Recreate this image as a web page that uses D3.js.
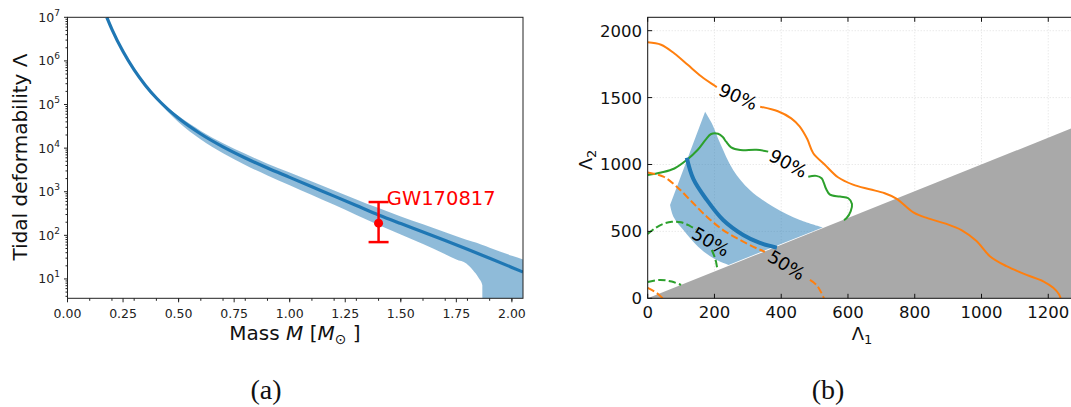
<!DOCTYPE html>
<html><head><meta charset="utf-8">
<script src="https://cdn.jsdelivr.net/npm/d3@7"></script>
<style>
html,body{margin:0;padding:0;background:#fff;}
svg{display:block;font-family:"DejaVu Sans",sans-serif;}
</style></head>
<body>
<svg id="c" width="1071" height="407"></svg>
<script>
// ---------- Panel (a) data ----------
const massGrid   = [0.177,0.2,0.25,0.3,0.35,0.4,0.45,0.5,0.6,0.7,0.8,0.9,1.0,1.1,1.2,1.3,1.4,1.5,1.6,1.7,1.8,1.9,2.0,2.05];
const lambdaMid  = [1e7,5.30e6,1.637e6,6.22e5,2.78e5,1.41e5,7.93e4,4.83e4,2.11e4,1.069e4,5940,3500,2133,1300,793,483,294,186,119,75.7,47.8,29.8,18.4,14.4];
const bandMass   = [0.35,0.4,0.45,0.5,0.6,0.7,0.8,0.9,1.0,1.1,1.2,1.3,1.4,1.5,1.6,1.7,1.75,1.795,1.825,1.85,1.867,1.868,1.9,2.0,2.05];
const bandHigh   = [2.78e5,1.459e5,8.59e4,5.42e4,2.48e4,1.30e4,7400,4410,2750,1710,1070,667,421,272,179,117,95,79,71,65,60,59.75,52,34,28];
const bandLow    = [2.78e5,1.346e5,6.90e4,3.93e4,1.58e4,7660,4110,2370,1410,840,500,294,173,104,63,37,28,22.6,15.8,10.7,7.2,1,1,1,1];
const gwMass = 1.4, gwLambda = 190, gwLow = 70, gwHigh = 580;
const gwLabel = "GW170817";
const massTicks = [0,0.25,0.5,0.75,1.0,1.25,1.5,1.75,2.0];
const massMinor = [0.1,0.2,0.3,0.4,0.5,0.6,0.7,0.8,0.9,1.0,1.1,1.2,1.3,1.4,1.5,1.6,1.7,1.8,1.9,2.0];
const lambdaTicks = [1e1,1e2,1e3,1e4,1e5,1e6,1e7];

// ---------- Panel (b) data ----------
const lam1Ticks = [0,200,400,600,800,1000,1200];
const lam2Ticks = [0,500,1000,1500,2000];
const orange90a = [[0,1913],[40,1895],[80,1830],[120,1745],[160,1660],[200,1590],[207,1578]];
const orange90b = [[337,1432],[390,1398],[430,1345],[455,1285],[478,1190],[496,1084],[530,1000],[570,905],[615,850],[665,815],[710,785],[745,745],[797,640],[840,597],[890,560],[940,510],[985,428],[1025,315],[1075,240],[1135,175],[1185,127],[1215,78],[1232,30],[1237,0]];
const green90a  = [[0,921],[40,940],[80,970],[117,1034],[150,1110],[175,1190],[190,1228],[211,1230],[225,1205],[235,1170],[250,1128],[277,1108],[326,1110],[361,1096]];
const green90b  = [[481,909],[505,915],[521,897],[528,860],[534,820],[546,775],[576,760],[601,748],[612,705],[608,650],[596,600],[588,585]];
const orange50a = [[0,940],[47,909],[87,834],[127,735],[177,610],[226,510],[277,436],[326,374],[351,348]];
const orange50b = [[486,137],[506,99],[521,37],[528,0]];
const orange50c = [[0,78],[27,40],[45,0]];
const green50a  = [[0,480],[20,520],[45,555],[72,572],[100,568],[127,540],[145,515]];
const green50b  = [[192,361],[203,290],[209,211]];
const green50c  = [[0,122],[37,137],[72,125],[100,100]];
const bandLeftEdge   = [[172,1395],[67,697]];
const bandLowerCurve = [[67,697],[77,610],[107,510],[151,386],[197,299],[242,249]];
const bandBottomEdge = [[242,249],[524,530]];
const bandUpperCurve = [[524,530],[456,585],[376,685],[306,809],[256,959],[217,1158],[192,1308],[172,1395]];
const blueLine  = [[117,1050],[137,890],[177,735],[226,585],[286,473],[336,414],[387,378]];
const boundary  = [[0,0],[1275,1275],[1275,0]];
const contourLabels = [
  {t:"90%", p:[271,1507], r:24},
  {t:"90%", p:[421,1009], r:28},
  {t:"50%", p:[189,423],  r:30},
  {t:"50%", p:[416,249],  r:32}
];
const captions = ["(a)","(b)"];

const svg = d3.select("#c");
const BLUE = "#1f77b4", ORANGE = "#ff7f0e", GREEN = "#2ca02c";

// ================= Panel (a) =================
const xL = d3.scaleLinear().domain([0,2.05]).range([67.5,523]);
const yL = d3.scaleLog().domain([3.6,1e7]).range([298.3,17.3]);
const gA = svg.append("g");
svg.append("clipPath").attr("id","clipA").append("rect")
  .attr("x",67.5).attr("y",17.3).attr("width",523-67.5).attr("height",298.3-17.3);
const plotA = gA.append("g").attr("clip-path","url(#clipA)");

const band = bandMass.map((m,i)=>({m, lo:bandLow[i], hi:bandHigh[i]}));
plotA.append("path").datum(band)
  .attr("d", d3.area().x(d=>xL(d.m)).y0(d=>yL(d.lo)).y1(d=>yL(d.hi)).curve(d3.curveMonotoneX))
  .attr("fill", BLUE).attr("fill-opacity",0.5);
const mid = massGrid.map((m,i)=>({m, v:lambdaMid[i]}));
plotA.append("path").datum(mid)
  .attr("d", d3.line().x(d=>xL(d.m)).y(d=>yL(d.v)).curve(d3.curveMonotoneX))
  .attr("fill","none").attr("stroke", BLUE).attr("stroke-width",3.2);

// error bar
const ex = xL(gwMass);
gA.append("line").attr("x1",ex).attr("x2",ex).attr("y1",yL(gwLow)).attr("y2",yL(gwHigh)).attr("stroke","red").attr("stroke-width",2.5);
[gwLow,gwHigh].forEach(v=>gA.append("line").attr("x1",ex-10).attr("x2",ex+10).attr("y1",yL(v)).attr("y2",yL(v)).attr("stroke","red").attr("stroke-width",2.5));
gA.append("circle").attr("cx",ex).attr("cy",yL(gwLambda)).attr("r",4.5).attr("fill","red");
gA.append("text").attr("x",xL(1.437)).attr("y",yL(718)).attr("dominant-baseline","central")
  .attr("fill","red").attr("font-size",19.5).text(gwLabel);

// frame
gA.append("rect").attr("x",67.5).attr("y",17.3).attr("width",523-67.5).attr("height",298.3-17.3)
  .attr("fill","none").attr("stroke","#222").attr("stroke-width",1);

// x ticks
const axA = gA.append("g").attr("transform","translate(0,298.3)");
massMinor.forEach(m=>axA.append("line").attr("x1",xL(m)).attr("x2",xL(m)).attr("y1",0).attr("y2",2.5).attr("stroke","#222"));
massTicks.forEach(m=>{
  axA.append("line").attr("x1",xL(m)).attr("x2",xL(m)).attr("y1",0).attr("y2",4).attr("stroke","#222");
  axA.append("text").attr("x",xL(m)).attr("y",19.5).attr("text-anchor","middle").attr("font-size",12.5).attr("fill","#222").text(d3.format(".2f")(m));
});
// y ticks
const ayA = gA.append("g").attr("transform","translate(67.5,0)");
for (let e=0;e<7;e++) for (let k=2;k<=9;k++){
  const v = k*Math.pow(10,e);
  if (v<3.6||v>1e7) continue;
  ayA.append("line").attr("x1",-2).attr("x2",0).attr("y1",yL(v)).attr("y2",yL(v)).attr("stroke","#222");
}
lambdaTicks.forEach(v=>{
  ayA.append("line").attr("x1",-3.5).attr("x2",0).attr("y1",yL(v)).attr("y2",yL(v)).attr("stroke","#222");
  const t = ayA.append("text").attr("x",-7.5).attr("y",yL(v)+4.5).attr("text-anchor","end").attr("font-size",12.5).attr("fill","#222");
  t.append("tspan").text("10");
  t.append("tspan").attr("font-size",9).attr("dy",-6).text(Math.round(Math.log10(v)));
});
// axis titles
gA.append("text").attr("transform","translate(27,157) rotate(-90)").attr("text-anchor","middle")
  .attr("font-size",20).attr("fill","#111").text("Tidal deformability Λ");
const xt = gA.append("text").attr("x",295).attr("y",340).attr("text-anchor","middle").attr("font-size",20).attr("fill","#111");
xt.append("tspan").text("Mass ");
xt.append("tspan").attr("font-style","italic").text("M");
xt.append("tspan").text(" [");
xt.append("tspan").attr("font-style","italic").text("M");
xt.append("tspan").attr("font-size",14).attr("dy",4).text("⊙");
xt.append("tspan").attr("dy",-4).text(" ]");

// ================= Panel (b) =================
const xR = d3.scaleLinear().domain([0,1275]).range([647.7,647.7+1275*0.3338]);
const yR = d3.scaleLinear().domain([0,2100]).range([298.3,17.3]);
const gB = svg.append("g");
svg.append("clipPath").attr("id","clipB").append("rect")
  .attr("x",647.7).attr("y",17.3).attr("width",440).attr("height",298.3-17.3);
const plotB = gB.append("g").attr("clip-path","url(#clipB)");

// grid
lam1Ticks.slice(1).forEach(v=>plotB.append("line").attr("x1",xR(v)).attr("x2",xR(v)).attr("y1",17.3).attr("y2",298.3)
  .attr("stroke","#d8d8d8").attr("stroke-width",0.8).attr("stroke-dasharray","1,2"));
lam2Ticks.slice(1).forEach(v=>plotB.append("line").attr("x1",647.7).attr("x2",1080).attr("y1",yR(v)).attr("y2",yR(v))
  .attr("stroke","#d8d8d8").attr("stroke-width",0.8).attr("stroke-dasharray","1,2"));

const lineR = d3.line().x(d=>xR(d[0])).y(d=>yR(d[1])).curve(d3.curveCatmullRom.alpha(0.5));
const lineLin = d3.line().x(d=>xR(d[0])).y(d=>yR(d[1]));
const bandPath = lineLin(bandLeftEdge) + lineR(bandLowerCurve).replace(/^M/,"L")
  + lineLin(bandBottomEdge).replace(/^M/,"L") + lineR(bandUpperCurve).replace(/^M/,"L") + "Z";
plotB.append("path").attr("d", bandPath).attr("fill",BLUE).attr("fill-opacity",0.5);
plotB.append("path").datum(boundary).attr("d", d3.line().x(d=>xR(d[0])).y(d=>yR(d[1])).curve(d3.curveLinearClosed))
  .attr("fill","#a9a9a9");
[[green90a,GREEN,null],[green90b,GREEN,null],[green50a,GREEN,"7.4,3.2"],[green50b,GREEN,"7.4,3.2"],[green50c,GREEN,"7.4,3.2"],
 [orange90a,ORANGE,null],[orange90b,ORANGE,null],[orange50a,ORANGE,"7.4,3.2"],[orange50b,ORANGE,"7.4,3.2"],[orange50c,ORANGE,"7.4,3.2"]]
 .forEach(([d,c,dash])=>{
  const p = plotB.append("path").datum(d).attr("d",lineR).attr("fill","none").attr("stroke",c).attr("stroke-width",2);
  if (dash) p.attr("stroke-dasharray",dash);
 });
plotB.append("path").datum(blueLine).attr("d",lineR).attr("fill","none").attr("stroke",BLUE).attr("stroke-width",4);
contourLabels.forEach(l=>{
  plotB.append("text").attr("transform",`translate(${xR(l.p[0])},${yR(l.p[1])}) rotate(${l.r})`)
    .attr("text-anchor","middle").attr("dominant-baseline","central").attr("font-size",18).attr("fill","#000").text(l.t);
});
// frame
gB.append("rect").attr("x",647.7).attr("y",17.3).attr("width",xR(1275)-647.7).attr("height",298.3-17.3)
  .attr("fill","none").attr("stroke","#111").attr("stroke-width",1);
// ticks (inward, all sides)
lam1Ticks.forEach(v=>{
  gB.append("line").attr("x1",xR(v)).attr("x2",xR(v)).attr("y1",298.3).attr("y2",293.8).attr("stroke","#111");
  gB.append("line").attr("x1",xR(v)).attr("x2",xR(v)).attr("y1",17.3).attr("y2",21.8).attr("stroke","#111");
  gB.append("text").attr("x",xR(v)).attr("y",318).attr("text-anchor","middle").attr("font-size",16.5).attr("fill","#111").text(v);
});
lam2Ticks.forEach(v=>{
  gB.append("line").attr("x1",647.7).attr("x2",652.2).attr("y1",yR(v)).attr("y2",yR(v)).attr("stroke","#111");
  gB.append("text").attr("x",642).attr("y",yR(v)+6).attr("text-anchor","end").attr("font-size",16.5).attr("fill","#111").text(v);
});
const x1t = gB.append("text").attr("x",862).attr("y",340).attr("text-anchor","middle").attr("font-size",18).attr("fill","#111");
x1t.append("tspan").text("Λ"); x1t.append("tspan").attr("font-size",13).attr("dy",4).text("1");
const y2t = gB.append("text").attr("transform","translate(592,160) rotate(-90)").attr("text-anchor","middle").attr("font-size",18).attr("fill","#111");
y2t.append("tspan").text("Λ"); y2t.append("tspan").attr("font-size",13).attr("dy",4).text("2");

// captions
svg.append("text").attr("x",266).attr("y",399).attr("text-anchor","middle").attr("font-family","'Liberation Serif','DejaVu Serif',serif").attr("font-size",28).attr("fill","#111").text(captions[0]);
svg.append("text").attr("x",828).attr("y",399).attr("text-anchor","middle").attr("font-family","'Liberation Serif','DejaVu Serif',serif").attr("font-size",28).attr("fill","#111").text(captions[1]);
</script>
</body></html>
